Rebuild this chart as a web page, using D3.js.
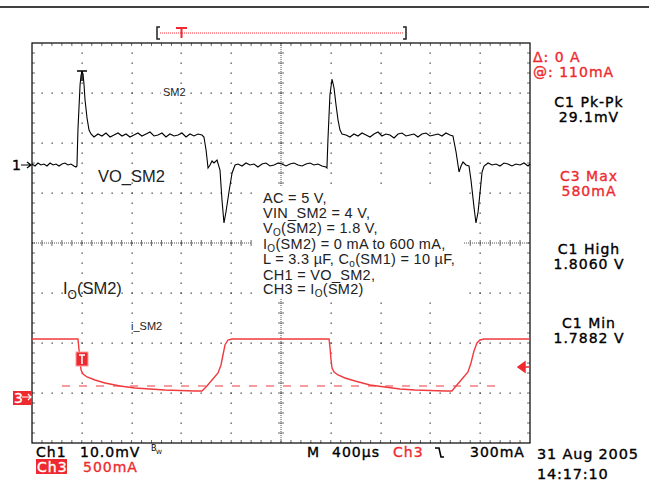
<!DOCTYPE html>
<html>

<head>
  <meta charset="utf-8">
  <title>VO_SM2 load transient</title>
  <script src="https://cdnjs.cloudflare.com/ajax/libs/d3/7.8.5/d3.min.js"></script>
  <style>
    body {
      margin: 0;
      background: #fff;
    }

    svg {
      display: block;
    }

    .scope text {
      font-family: "DejaVu Sans", sans-serif;
      font-size: 14px;
      letter-spacing: 1px;
      stroke-width: 0.35px;
    }

    .note {
      font-family: "Liberation Sans", Arial, sans-serif;
      fill: #222;
    }
  </style>

  <script>
    /*
    Trace data read off the screen shot
    time in µs from the left edge of the screen (10 div x 400 µs)
    */
    // CH1 = VO_SM2, mV above the ch1 marker (10 mV/div)
    var ch1Time = [0, 24, 48, 72, 96, 120, 145, 169, 193, 217, 241, 265, 289, 313, 337, 353,
      361, 369, 386, 394, 402, 410, 418, 426, 442, 458, 474,
      498, 530, 562, 594, 627, 659, 691, 723, 755, 787, 819, 851, 883, 916, 948, 980, 1012, 1044,
      1076, 1108, 1141, 1173, 1205, 1237, 1269, 1301, 1333, 1365,
      1381, 1398, 1414, 1430, 1446, 1462, 1486, 1510, 1526, 1542, 1558, 1582, 1607, 1631,
      1655, 1687, 1719, 1751, 1783, 1815, 1847, 1879, 1912, 1944, 1976, 2008, 2040, 2072, 2104,
      2137, 2169, 2201, 2233, 2265, 2297, 2329, 2361,
      2369, 2377, 2393, 2410, 2426, 2442, 2458, 2474, 2490,
      2522, 2554, 2586, 2618, 2651, 2683, 2715, 2747, 2779, 2811, 2843, 2875, 2908, 2940, 2972,
      3004, 3036, 3068, 3100, 3132, 3165, 3197, 3229, 3261, 3293, 3325, 3357,
      3381, 3406, 3430, 3446, 3462, 3486, 3510, 3526, 3551, 3566, 3583, 3599, 3615, 3631,
      3663, 3695, 3727, 3759, 3791, 3823, 3855, 3887, 3920, 3952, 3984, 4000];
    var ch1Mv = [0.2, -0.2, 0.4, 0, 0.2, -0.2, 0.4, 0, 0.2, -0.2, 0.2, 0.4, 0, 0.2, -0.2, -0.4,
      -0.2, 7, 16, 18, 18.6, 18.2, 16, 13, 9.4, 7, 6.2,
      5.6, 6.2, 5.8, 6.4, 5.6, 6.0, 6.4, 5.8, 6.2, 5.6, 6.0, 6.4, 5.8, 6.2, 6.6, 5.8, 6.0, 6.4,
      5.6, 6.2, 5.8, 6.0, 6.4, 5.6, 6.2, 5.8, 6.2, 6.0,
      5.6, 3, -0.6, 0, 0.8, 0.4, 1, -1, -7, -11.6, -9.4, -5.4, -1.6, 0,
      0.2, -0.2, 0.4, 0, 0.2, -0.4, 0.2, 0.4, -0.2, 0, 0.4, 0.2, -0.2, 0.2, 0.4,
      0, -0.2, 0.2, 0.4, 0, 0.2, -0.2, -0.4,
      -0.6, 5, 14, 17.2, 15.4, 12, 9, 7, 6.2,
      6.0, 5.6, 6.2, 5.8, 6.4, 6.0, 5.6, 6.2, 6.6, 5.8, 6.2, 6.0, 5.4, 6.2, 6.4,
      5.8, 6.0, 6.2, 5.6, 6.2, 6.4, 5.8, 6.0, 6.2, 5.8, 6.4, 6.0,
      5.8, 2.6, -1.4, -0.2, 0.6, 0, -0.2, -3, -8.6, -11.6, -9.4, -5.4, -1.4, -0.2,
      0.4, 0, 0.2, -0.2, 0.4, 0.2, -0.2, 0.2, 0, 0.4, -0.2, 0.2];

    // CH3 = IO(SM2), mA (500 mA/div)
    var ch3Time = [0, 369, 378, 386, 394, 410, 442, 506, 586, 707, 827, 948, 1068, 1189, 1309, 1365,
      1398, 1446, 1494, 1518, 1534, 1550, 1574, 1606,
      2386, 2394, 2402, 2410, 2426, 2458, 2514, 2594, 2715, 2835, 2956, 3076, 3197, 3317, 3373,
      3406, 3454, 3502, 3526, 3550, 3574, 3598, 3631, 4000];
    var ch3Ma = [580, 580, 470, 350, 270, 230, 200, 170, 140, 110, 90, 80, 70, 65, 60, 60,
      100, 170, 240, 320, 420, 520, 570, 580,
      580, 490, 370, 290, 250, 220, 190, 160, 120, 100, 80, 70, 65, 60, 60,
      110, 180, 250, 340, 460, 540, 570, 580, 580];

    // scope settings
    var trigTime = 400, trigLevel = 300, cursorLevel = 110;

    // measurement readouts on the right
    var readNames = ["C1 Pk-Pk", "C3 Max", "C1 High", "C1 Min"];
    var readValues = ["29.1mV", "580mA", "1.8060 V", "1.7882 V"];
    var readRed = [false, true, false, false];

    // annotation block, each line is a list of [text, isSubscript]
    var noteLines = [
      [["AC = 5 V,"]],
      [["VIN_SM2 = 4 V,"]],
      [["V"], ["O", 1], ["(SM2) = 1.8 V,"]],
      [["I"], ["O", 1], ["(SM2) = 0 mA to 600 mA,"]],
      [["L = 3.3 \u00b5F, C"], ["o", 1], ["(SM1) = 10 \u00b5F,"]],
      [["CH1 = VO_SM2,"]],
      [["CH3 = I"], ["O", 1], ["(SM2)"]]
    ];

    /*
    Global layout
    */
    var outerWidth = 649,
      outerHeight = 481,
      plotLeft = 32, plotRight = 530, plotTop = 43, plotBottom = 443,
      xDivs = 10, yDivs = 8,
      red = "#ee2a30",
      traceRed = "#f03a3e";

    var x = d3.scaleLinear().domain([0, 4000]).range([plotLeft, plotRight]);
    var y1 = d3.scaleLinear().domain([0, 10]).range([165, 115]);
    var y3 = d3.scaleLinear().domain([0, 500]).range([397, 347]);

    /*
    Graticule
    */
    function drawGrid(svg) {
      var g = svg.append("g").attr("id", "grid");
      var dx = (plotRight - plotLeft) / xDivs, dy = (plotBottom - plotTop) / yDivs;
      var dots = [];
      for (var i = 1; i < xDivs; i++) {
        if (i === xDivs / 2) continue;
        for (var k = 1; k < yDivs * 5; k++) dots.push([plotLeft + i * dx, plotTop + k * dy / 5]);
      }
      for (var j = 1; j < yDivs; j++) {
        if (j === yDivs / 2) continue;
        for (var k = 1; k < xDivs * 5; k++) dots.push([plotLeft + k * dx / 5, plotTop + j * dy]);
      }
      g.selectAll("rect.dot")
        .data(dots)
        .enter()
        .append("rect")
        .attr("class", "dot")
        .attr("x", (d) => Math.round(d[0]) - 0.5)
        .attr("y", (d) => Math.round(d[1]) - 0.5)
        .attr("width", 1.3)
        .attr("height", 1.3)
        .attr("fill", "#444");

      var cx = plotLeft + dx * xDivs / 2, cy = plotTop + dy * yDivs / 2;
      g.append("line").attr("x1", plotLeft).attr("x2", plotRight).attr("y1", cy).attr("y2", cy)
        .attr("stroke", "#555").attr("stroke-dasharray", "1,1");
      g.append("line").attr("x1", cx).attr("x2", cx).attr("y1", plotTop).attr("y2", plotBottom)
        .attr("stroke", "#555").attr("stroke-dasharray", "1,1");

      // minor ticks on the centre lines and on the frame
      var ticks = [];
      for (var k = 1; k < xDivs * 5; k++) {
        var px = plotLeft + k * dx / 5;
        ticks.push([px, cy - 3, px, cy + 3]);
        ticks.push([px, plotTop, px, plotTop + 3]);
        ticks.push([px, plotBottom - 3, px, plotBottom]);
      }
      for (var k = 1; k < yDivs * 5; k++) {
        var py = plotTop + k * dy / 5;
        ticks.push([cx - 3, py, cx + 3, py]);
        ticks.push([plotLeft, py, plotLeft + 3, py]);
        ticks.push([plotRight - 3, py, plotRight, py]);
      }
      g.selectAll("line.tick")
        .data(ticks)
        .enter()
        .append("line")
        .attr("class", "tick")
        .attr("x1", (d) => d[0]).attr("y1", (d) => d[1])
        .attr("x2", (d) => d[2]).attr("y2", (d) => d[3])
        .attr("stroke", "#444")
        .attr("stroke-width", 0.8);

      g.append("rect")
        .attr("x", plotLeft).attr("y", plotTop)
        .attr("width", plotRight - plotLeft).attr("height", plotBottom - plotTop)
        .attr("fill", "none").attr("stroke", "#000").attr("stroke-width", 1.2);
    }

    /*
    Annotation text
    */
    function drawNotes(svg) {
      var g = svg.append("g").attr("id", "notes");
      g.append("rect").attr("x", 252).attr("y", 186).attr("width", 212).attr("height", 112).attr("fill", "#fff");

      var baselines = [203, 218, 233, 249, 264, 280, 294];
      noteLines.forEach(function (line, i) {
        var t = g.append("text").attr("class", "note").attr("font-size", 14.5)
          .attr("x", 263).attr("y", baselines[i]).attr("letter-spacing", 0.3);
        var lifted = 0;
        line.forEach(function (seg) {
          var ts = t.append("tspan").text(seg[0]);
          if (seg[1]) {
            ts.attr("font-size", 10).attr("dy", 3);
            lifted = 3;
          } else if (lifted) {
            ts.attr("dy", -lifted);
            lifted = 0;
          }
        });
      });

      // small labels sitting on the graticule
      g.append("rect").attr("x", 161).attr("y", 86).attr("width", 26).attr("height", 12).attr("fill", "#fff");
      g.append("text").attr("class", "note").attr("x", 163).attr("y", 96)
        .attr("font-size", 11).attr("fill", "#333").text("SM2");
      g.append("rect").attr("x", 129).attr("y", 320).attr("width", 36).attr("height", 12).attr("fill", "#fff");
      g.append("text").attr("class", "note").attr("x", 131).attr("y", 330)
        .attr("font-size", 11).attr("fill", "#333").text("i_SM2");

      g.append("text").attr("class", "note").attr("x", 98).attr("y", 182)
        .attr("font-size", 16.5).text("VO_SM2");
      var io = g.append("text").attr("class", "note").attr("x", 63).attr("y", 294).attr("font-size", 16.5);
      io.append("tspan").text("I");
      io.append("tspan").attr("font-size", 12).attr("dy", 5).text("O");
      io.append("tspan").attr("dy", -5).text("(SM2)");
    }

    /*
    Waveforms
    */
    function drawTraces(svg) {
      var g = svg.append("g").attr("id", "traces");

      // ch3 cursor
      g.append("line")
        .attr("x1", 62).attr("x2", 498)
        .attr("y1", y3(cursorLevel)).attr("y2", y3(cursorLevel))
        .attr("stroke", traceRed).attr("stroke-width", 1.2)
        .attr("stroke-dasharray", "8,9");

      var line3 = d3.line().x((d) => x(d[0])).y((d) => y3(d[1]));
      g.append("path")
        .datum(d3.zip(ch3Time, ch3Ma))
        .attr("d", line3)
        .attr("fill", "none")
        .attr("stroke", traceRed)
        .attr("stroke-width", 1.4);

      var line1 = d3.line().x((d) => x(d[0])).y((d) => y1(d[1]));
      g.append("path")
        .datum(d3.zip(ch1Time, ch1Mv))
        .attr("d", line1)
        .attr("fill", "none")
        .attr("stroke", "#000")
        .attr("stroke-width", 1.1);

      // trigger markers
      var tx = Math.round(x(trigTime));
      g.append("path")
        .attr("d", "M" + (tx - 5) + ",71H" + (tx + 5) + "M" + tx + ",71V81")
        .attr("stroke", "#000").attr("stroke-width", 1.5).attr("fill", "none");
      var ty = y3(trigLevel);
      g.append("rect").attr("x", tx - 6).attr("y", ty - 15).attr("width", 12).attr("height", 14)
        .attr("fill", red).attr("stroke", "#f7a0a0");
      g.append("path")
        .attr("d", "M" + (tx - 3) + "," + (ty - 12) + "H" + (tx + 3) + "M" + tx + "," + (ty - 12) + "V" + (ty - 3))
        .attr("stroke", "#fff").attr("stroke-width", 1.5);

      // trigger level arrow on the right edge
      g.append("path")
        .attr("d", "M518," + ty + "L525," + (ty - 5) + "V" + (ty + 5) + "Z M524," + ty + "H530")
        .attr("fill", red).attr("stroke", red).attr("stroke-width", 1.5);
    }

    /*
    Scope read-outs around the screen
    */
    function drawReadouts(svg) {
      var g = svg.append("g").attr("id", "readouts").attr("class", "scope");

      // top rule
      g.append("line").attr("x1", 0).attr("x2", outerWidth).attr("y1", 7).attr("y2", 7)
        .attr("stroke", "#000").attr("stroke-width", 1.5);

      // record position bracket
      g.append("line").attr("x1", 160).attr("x2", 404).attr("y1", 33).attr("y2", 33)
        .attr("stroke", red).attr("stroke-width", 1).attr("stroke-dasharray", "1,1");
      g.append("path").attr("d", "M160,27H157V39H160 M403,27H406V39H403")
        .attr("fill", "none").attr("stroke", "#222").attr("stroke-width", 1.5);
      g.append("path").attr("d", "M176,28H187M181.5,28V38")
        .attr("stroke", red).attr("stroke-width", 2);

      // channel markers
      g.append("text").attr("x", 12).attr("y", 170).attr("fill", "#000").attr("stroke", "#000").text("1");
      g.append("path").attr("d", "M21," + y1(0) + "H31 M27," + (y1(0) - 3) + "L31," + y1(0) + "L27," + (y1(0) + 3))
        .attr("fill", "none").attr("stroke", "#000").attr("stroke-width", 1.2);
      g.append("rect").attr("x", 13).attr("y", 391).attr("width", 19).attr("height", 14).attr("fill", red);
      g.append("text").attr("x", 14).attr("y", 403).attr("fill", "#fff").attr("stroke", "#fff").text("3");
      g.append("path").attr("d", "M22," + y3(0) + "H31 M28," + (y3(0) - 3) + "L31," + y3(0) + "L28," + (y3(0) + 3))
        .attr("fill", "none").attr("stroke", "#fff").attr("stroke-width", 1.2);

      // cursor readout
      g.append("text").attr("x", 533).attr("y", 62).attr("fill", red).attr("stroke", red).text("\u0394: 0 A");
      g.append("text").attr("x", 533).attr("y", 77).attr("fill", red).attr("stroke", red).text("@: 110mA");

      readNames.forEach(function (name, i) {
        var yy = 107 + i * 73.5;
        var fill = readRed[i] ? red : "#000";
        g.append("text").attr("x", 589).attr("y", yy).attr("text-anchor", "middle")
          .attr("fill", fill).attr("stroke", fill).text(name);
        g.append("text").attr("x", 589).attr("y", yy + 15).attr("text-anchor", "middle")
          .attr("fill", fill).attr("stroke", fill).text(readValues[i]);
      });

      // bottom status line
      function status(tx, ty, txt, col) {
        return g.append("text").attr("x", tx).attr("y", ty).attr("fill", col).attr("stroke", col).text(txt);
      }
      status(36, 457, "Ch1", "#000");
      status(80, 457, "10.0mV", "#000");
      g.append("text").attr("x", 151).attr("y", 451).style("font-size", "8px").style("letter-spacing", "0px").text("B");
      g.append("text").attr("x", 156).attr("y", 454).style("font-size", "6px").style("letter-spacing", "0px").text("W");
      status(307, 457, "M", "#000");
      status(332, 457, "400\u00b5s", "#000");
      status(393, 457, "Ch3", red);
      g.append("path").attr("d", "M435,448H439L441,457H444")
        .attr("fill", "none").attr("stroke", "#000").attr("stroke-width", 1.6);
      status(470, 457, "300mA", "#000");
      g.append("rect").attr("x", 36).attr("y", 459).attr("width", 31).attr("height", 15).attr("fill", red);
      status(37, 472, "Ch3", "#fff");
      status(83, 472, "500mA", red);

      status(537, 459, "31 Aug 2005", "#000").style("font-size", "14.5px").style("letter-spacing", "0.8px");
      status(537, 479, "14:17:10", "#000").style("font-size", "14.5px").style("letter-spacing", "0.8px");
    }

    function draw() {
      var svg = d3.select("#canvas")
        .append("svg")
        .attr("width", outerWidth)
        .attr("height", outerHeight);

      drawGrid(svg);
      drawNotes(svg);
      drawTraces(svg);
      drawReadouts(svg);
    }
  </script>
</head>

<body>
  <div id="canvas"></div>
  <script>
    draw();
  </script>
</body>

</html>
